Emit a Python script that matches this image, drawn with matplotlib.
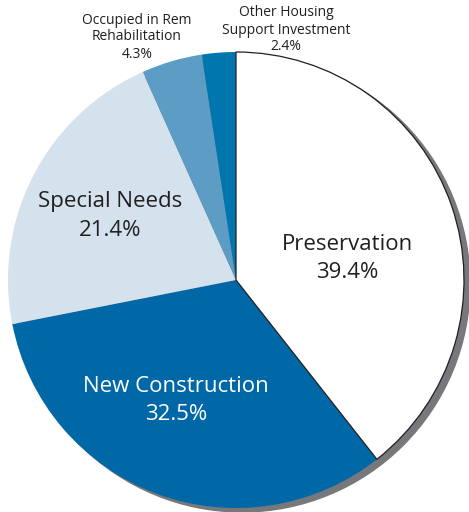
import matplotlib
matplotlib.use("Agg")
import matplotlib.pyplot as plt
from matplotlib.patches import Circle

categories = ["Preservation", "New Construction", "Special Needs",
              "Occupied in Rem\nRehabilitation", "Other Housing\nSupport Investment"]
values = [39.4, 32.5, 21.4, 4.3, 2.4]
colors = ["#ffffff", "#0068a6", "#d4e2ee", "#5c9cc5", "#0076ae"]

W, H = 469, 512
fig = plt.figure(figsize=(W / 100, H / 100), dpi=100)
ax = fig.add_axes([0, 0, 1, 1])

cx, cy, r = 236, H - 280, 228

# shadow
ax.add_patch(Circle((cx + 6, cy - 4), r, color="#77787b", zorder=0))

wedges, _ = ax.pie(values, colors=colors, startangle=90, counterclock=False,
                   center=(cx, cy), radius=r, frame=True,
                   wedgeprops=dict(linewidth=0))
ax.set_xlim(0, W)
ax.set_ylim(0, H)
ax.set_aspect("equal")
ax.axis("off")
wedges[0].set_edgecolor("#231f20")
wedges[0].set_linewidth(0.9)
for w in wedges:
    w.set_zorder(2)
wedges[0].set_zorder(3)

font = "Open Sans"
dark = "#231f20"
big = 16
small = 10.0

def put(x, y, s, size, color=dark):
    ax.text(x, H - y, s, ha="center", va="center", fontsize=size,
            color=color, family=font, zorder=5)

put(347, 244, "Preservation", big)
put(347, 273, f"{values[0]}%", big)
put(176, 386, "New Construction", big, "white")
put(176, 415, f"{values[1]}%", big, "white")
put(110, 202, "Special Needs", big)
put(110, 231, f"{values[2]}%", big)

put(137, 20, "Occupied in Rem", small)
put(137, 37, "Rehabilitation", small)
put(137, 54, f"{values[3]}%", small)

put(286, 13, "Other Housing", small)
put(286, 30, "Support Investment", small)
put(286, 46, f"{values[4]}%", small)

fig.savefig("out.png", dpi=100)
